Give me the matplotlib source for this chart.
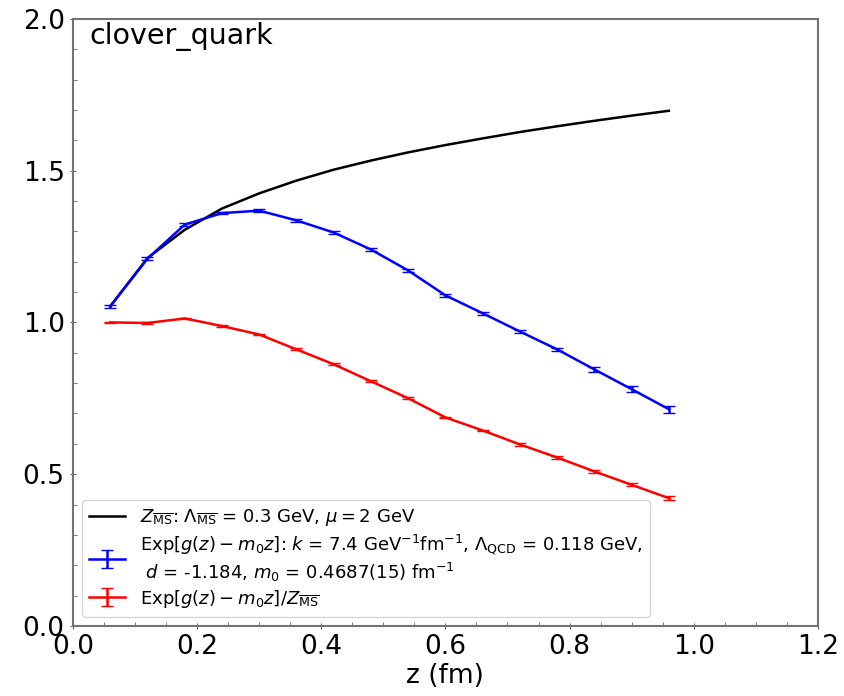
import matplotlib.pyplot as plt
import numpy as np

# z positions (fm)
z = [0.06, 0.12, 0.18, 0.24, 0.30, 0.36, 0.42, 0.48,
     0.54, 0.60, 0.66, 0.72, 0.78, 0.84, 0.90, 0.96]

# Z_MSbar curve
z_msbar = [1.053, 1.212, 1.305, 1.375, 1.425, 1.467, 1.503, 1.533,
           1.560, 1.584, 1.606, 1.627, 1.646, 1.664, 1.681, 1.697]

# Exp[g(z) - m0 z]
blue_val = [1.053, 1.210, 1.322, 1.360, 1.368, 1.336, 1.296, 1.240,
            1.171, 1.089, 1.030, 0.970, 0.911, 0.845, 0.780, 0.714]
blue_err = [0.004, 0.004, 0.005, 0.004, 0.004, 0.004, 0.004, 0.005,
            0.005, 0.005, 0.005, 0.006, 0.006, 0.007, 0.009, 0.011]

# Exp[g(z) - m0 z] / Z_MSbar
red_val = [1.000, 0.998, 1.013, 0.988, 0.960, 0.911, 0.862, 0.806,
           0.750, 0.687, 0.644, 0.598, 0.555, 0.509, 0.465, 0.421]
red_err = [0.002, 0.002, 0.003, 0.003, 0.003, 0.003, 0.003, 0.003,
           0.003, 0.003, 0.003, 0.004, 0.004, 0.004, 0.005, 0.006]

fig = plt.figure(figsize=(8.44, 6.96), dpi=100)
ax = fig.add_axes([0.0865, 0.1006, 0.8825, 0.8724])

ax.plot(z, z_msbar, color='black', lw=1.8,
        label=r'$Z_{\overline{\rm MS}}$: $\Lambda_{\overline{\rm MS}}$ = 0.3 GeV, $\mu = 2$ GeV')
ax.errorbar(z, blue_val, yerr=blue_err, color='blue', lw=1.8, capsize=4,
            label='Exp$[g(z)-m_0z]$: $k$ = 7.4 GeV$^{-1}$fm$^{-1}$, $\\Lambda_{\\rm QCD}$ = 0.118 GeV,\n'
                  ' $d$ = -1.184, $m_0$ = 0.4687(15) fm$^{-1}$')
ax.errorbar(z, red_val, yerr=red_err, color='red', lw=1.8, capsize=4,
            label=r'Exp$[g(z)-m_0z]/Z_{\overline{\rm MS}}$')

ax.set_xlim(0, 1.2)
ax.set_ylim(0, 2.0)
ax.set_xticks(np.arange(0, 1.21, 0.2))
ax.set_yticks(np.arange(0, 2.01, 0.5))
ax.set_xticks(np.arange(0, 1.21, 0.05), minor=True)
ax.set_yticks(np.arange(0, 2.01, 0.1), minor=True)
ax.tick_params(which='major', labelsize=19, direction='inout', length=5, color='0.4')
ax.tick_params(which='minor', direction='in', length=3, color='0.4')
for s in ax.spines.values():
    s.set_color('0.45')
    s.set_linewidth(1.5)

ax.set_xlabel('z (fm)', fontsize=19, labelpad=2)
ax.text(0.022, 0.995, 'clover_quark', transform=ax.transAxes, fontsize=20.5,
        va='top', ha='left')

ax.legend(loc='lower left', fontsize=13, framealpha=0.8, handlelength=2.0,
          labelspacing=0.22, borderaxespad=0.5)

fig.savefig('out.png', dpi=100)
